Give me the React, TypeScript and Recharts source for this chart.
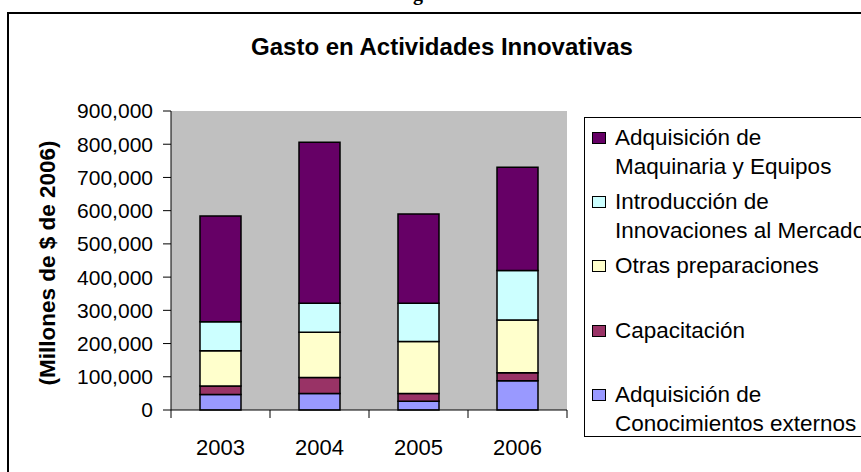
import React from "react";
import { BarChart, Bar, XAxis, YAxis, CartesianGrid } from "recharts";

const years = ["2003", "2004", "2005", "2006"];
const conocimientos = [47000, 50000, 26000, 88000];
const capacitacion = [25000, 48000, 24000, 24000];
const otras = [106000, 136000, 156000, 159000];
const introduccion = [88000, 87000, 115000, 149000];
const maquinaria = [318000, 485000, 269000, 311000];
const yTicks = [0, 100000, 200000, 300000, 400000, 500000, 600000, 700000, 800000, 900000];

const series = [
  { key: "conocimientos", lines: ["Adquisición de", "Conocimientos externos"], color: "#9999FF" },
  { key: "capacitacion", lines: ["Capacitación"], color: "#993366" },
  { key: "otras", lines: ["Otras preparaciones"], color: "#FFFFCC" },
  { key: "introduccion", lines: ["Introducción de", "Innovaciones al Mercado"], color: "#CCFFFF" },
  { key: "maquinaria", lines: ["Adquisición de", "Maquinaria y Equipos"], color: "#660066" },
];

const data = years.map((y, i) => ({
  year: y,
  conocimientos: conocimientos[i],
  capacitacion: capacitacion[i],
  otras: otras[i],
  introduccion: introduccion[i],
  maquinaria: maquinaria[i],
}));

const FONT = "'Liberation Sans', Arial, sans-serif";

const XTick = (props: any) => {
  const { x, y, payload, index, visibleTicksCount } = props;
  const off = payload.offset || 0;
  const y0 = y - 8;
  return (
    <g>
      <line x1={x - off} y1={y0} x2={x - off} y2={y0 + 8} stroke="#000" strokeWidth={1} />
      {index === visibleTicksCount - 1 ? (
        <line x1={x + off} y1={y0} x2={x + off} y2={y0 + 8} stroke="#000" strokeWidth={1} />
      ) : null}
      <text x={x} y={y} dy={37} textAnchor="middle" fontFamily={FONT} fontSize={22} fill="#000">
        {payload.value}
      </text>
    </g>
  );
};

const LegendBox = () => {
  const items = [...series].reverse();
  return (
    <div
      style={{
        position: "absolute",
        left: 584,
        top: 117,
        border: "1px solid #000",
        background: "#fff",
        width: 300,
        height: 320,
        boxSizing: "border-box",
        paddingTop: 5,
        paddingLeft: 7,
        fontFamily: FONT,
        fontSize: 22.5,
        color: "#000",
      }}
    >
      {items.map((s) => (
        <div key={s.key} style={{ height: 64.2, display: "flex", alignItems: "flex-start" }}>
          <div
            style={{
              width: 14,
              height: 12,
              marginTop: 9,
              background: s.color,
              border: "1px solid #000",
              boxSizing: "border-box",
              flex: "none",
            }}
          />
          <div style={{ marginLeft: 9, lineHeight: "29px", whiteSpace: "nowrap" }}>
            {s.lines.map((l, j) => (
              <div key={j}>{l}</div>
            ))}
          </div>
        </div>
      ))}
    </div>
  );
};

export default function App() {
  return (
    <div
      style={{
        position: "absolute",
        left: 0,
        top: 0,
        width: 861,
        height: 472,
        overflow: "hidden",
        background: "#fff",
      }}
    >
      <div
        style={{
          position: "absolute",
          left: 413,
          top: -17,
          fontFamily: "'Liberation Serif', 'Times New Roman', serif",
          fontWeight: "bold",
          fontSize: 20,
          lineHeight: "20px",
        }}
      >
        g
      </div>
      <div
        style={{
          position: "absolute",
          left: 7,
          top: 12,
          width: 900,
          height: 500,
          border: "2px solid #000",
        }}
      />
      <div
        style={{
          position: "absolute",
          left: 0,
          width: 884,
          top: 32,
          textAlign: "center",
          fontFamily: FONT,
          fontWeight: "bold",
          fontSize: 24,
          lineHeight: "30px",
        }}
      >
        Gasto en Actividades Innovativas
      </div>
      <div
        style={{
          position: "absolute",
          left: 48,
          top: 263,
          transform: "translate(-50%, -50%) rotate(-90deg)",
          fontFamily: FONT,
          fontWeight: "bold",
          fontSize: 22.5,
          whiteSpace: "nowrap",
        }}
      >
        (Millones de $ de 2006)
      </div>
      <div style={{ position: "absolute", left: 0, top: 0 }}>
        <BarChart
          width={861}
          height={472}
          data={data}
          margin={{ top: 111, right: 294, left: 71, bottom: 22 }}
        >
          <CartesianGrid fill="#C0C0C0" horizontal={false} vertical={false} stroke="none" />
          <XAxis
            dataKey="year"
            height={40}
            axisLine={{ stroke: "#000", strokeWidth: 1 }}
            tickLine={{ stroke: "none" }}
            tickSize={8}
            tickMargin={0}
            tick={<XTick />}
            interval={0}
          />
          <XAxis
            xAxisId="top"
            dataKey="year"
            orientation="top"
            height={0}
            axisLine={{ stroke: "#808080", strokeWidth: 1 }}
            tick={false}
            tickLine={false}
          />
          <YAxis
            width={100}
            domain={[0, 900000]}
            ticks={yTicks}
            interval={0}
            axisLine={{ stroke: "#000", strokeWidth: 1 }}
            tickLine={{ stroke: "#000" }}
            tickSize={8}
            tickMargin={10}
            tickFormatter={(v: number) => v.toLocaleString("en-US")}
            tick={{ fontFamily: FONT, fontSize: 21, fill: "#000" }}
          />
          <YAxis
            yAxisId="right"
            orientation="right"
            width={0}
            domain={[0, 900000]}
            axisLine={{ stroke: "#808080", strokeWidth: 1 }}
            tick={false}
            tickLine={false}
          />
          {series.map((s) => (
            <Bar
              key={s.key}
              dataKey={s.key}
              stackId="a"
              fill={s.color}
              stroke="#000"
              strokeWidth={1.5}
              barSize={41}
              isAnimationActive={false}
            />
          ))}
        </BarChart>
      </div>
      <LegendBox />
    </div>
  );
}
